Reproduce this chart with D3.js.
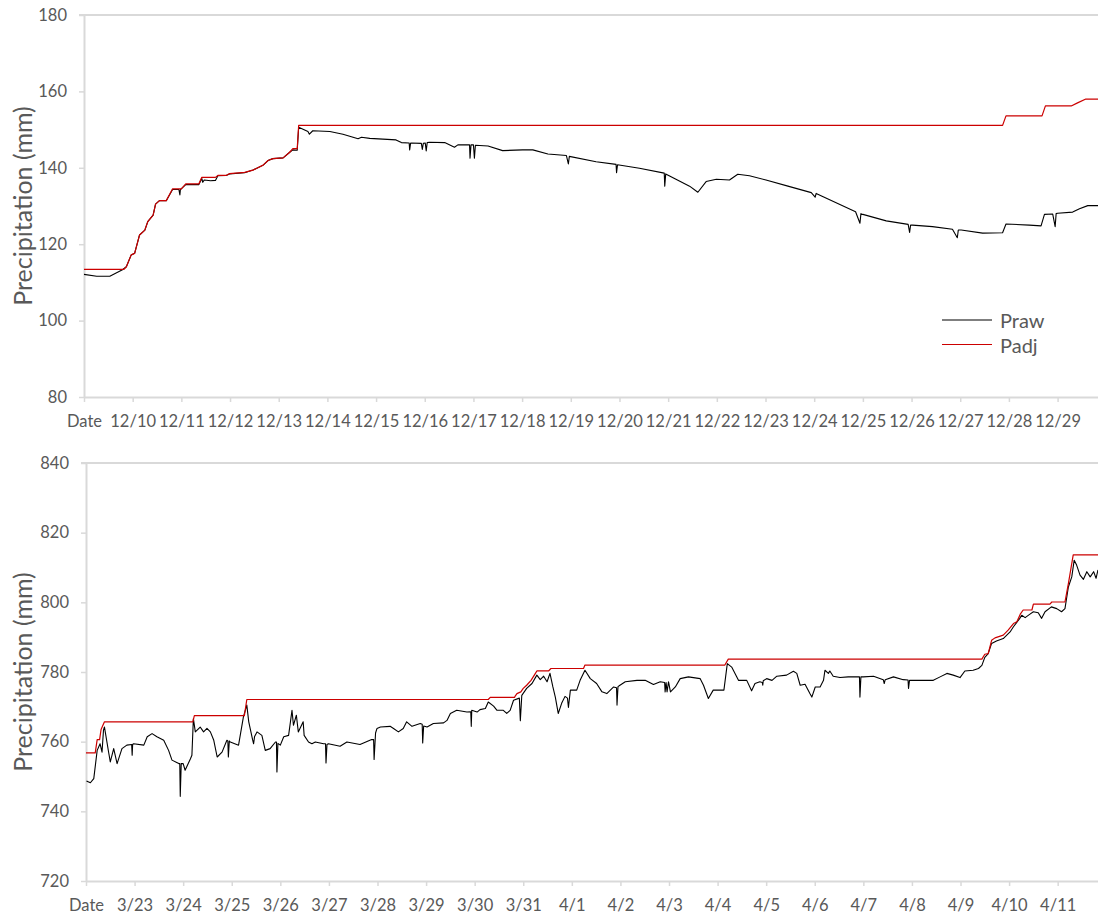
<!DOCTYPE html>
<html>
<head>
<meta charset="utf-8">
<script src="https://cdn.jsdelivr.net/npm/d3@7"></script>
<style>
  body { margin: 0; background: #fff; }
  svg text { font-family: Lato, "Open Sans", sans-serif; fill: #595959; }
</style>
</head>
<body>
<svg id="chart" width="1098" height="917"></svg>
<script>
// day offsets from the first tick ("Date"), values in mm
const decLabels = ['Date', '12/10', '12/11', '12/12', '12/13', '12/14', '12/15', '12/16', '12/17', '12/18',
  '12/19', '12/20', '12/21', '12/22', '12/23', '12/24', '12/25', '12/26', '12/27', '12/28', '12/29'];
const marLabels = ['Date', '3/23', '3/24', '3/25', '3/26', '3/27', '3/28', '3/29', '3/30', '3/31', '4/1',
  '4/2', '4/3', '4/4', '4/5', '4/6', '4/7', '4/8', '4/9', '4/10', '4/11'];
const decTicks = [80, 100, 120, 140, 160, 180];
const marTicks = [720, 740, 760, 780, 800, 820, 840];

const decRaw = [
  [0, 112.1], [0.26, 111.6], [0.53, 111.6], [0.79, 113.3], [0.87, 114.1], [0.97, 117.2], [1.04, 117.6],
  [1.14, 122.4], [1.25, 123.7], [1.31, 125.9], [1.42, 127.6], [1.47, 130.5], [1.55, 131.4], [1.69, 131.4],
  [1.82, 134.3], [1.95, 134.3], [1.97, 132.9], [1.98, 134.3], [2.09, 135.6], [2.36, 135.6], [2.42, 137.2],
  [2.44, 136.2], [2.47, 136.8], [2.6, 136.6], [2.7, 136.7], [2.75, 137.9], [2.92, 138], [2.99, 138.4],
  [3.3, 138.7], [3.47, 139.4], [3.68, 140.7], [3.78, 141.9], [3.88, 142.4], [4.09, 142.6], [4.22, 144],
  [4.29, 144.7], [4.38, 144.6], [4.41, 150.6], [4.6, 149.5], [4.63, 148.8], [4.7, 149.7], [5.05, 149.5],
  [5.32, 148.8], [5.63, 147.6], [5.7, 148], [5.87, 147.7], [6.41, 147.3], [6.52, 146.6], [6.68, 146.5],
  [6.69, 144.7], [6.71, 146.5], [6.93, 146.4], [6.95, 144.8], [6.97, 146.4], [7.01, 146.5], [7.03, 144.4],
  [7.05, 146.6], [7.1, 146.7], [7.41, 146.6], [7.61, 145.4], [7.68, 146], [7.92, 146], [7.93, 142.5],
  [7.95, 146], [8.0, 146], [8.02, 142.5], [8.04, 145.9], [8.3, 145.7], [8.6, 144.5], [9.01, 144.7],
  [9.22, 144.7], [9.53, 143.6], [9.91, 143.2], [9.95, 141], [9.97, 143], [10.52, 141.6], [10.93, 140.9],
  [10.94, 138.7], [10.96, 140.8], [11.41, 139.9], [11.92, 138.6], [11.93, 135.2], [11.95, 138.4],
  [12.44, 135.2], [12.61, 133.6], [12.78, 136.4], [12.99, 137], [13.26, 136.8], [13.43, 138.3],
  [13.67, 137.9], [14.01, 136.8], [14.46, 135.2], [14.94, 133.5], [15.02, 132.3], [15.04, 133.3],
  [15.85, 128.5], [15.94, 125.5], [15.96, 128], [16.0, 127.8], [16.48, 126.1], [16.93, 125.2],
  [16.96, 123.1], [16.98, 125], [17.02, 125], [17.43, 124.6], [17.84, 123.9], [17.94, 121.7],
  [17.96, 123.7], [18.02, 123.7], [18.46, 122.9], [18.87, 123], [18.94, 125.3], [19.42, 125],
  [19.66, 124.8], [19.73, 127.8], [19.9, 127.9], [19.95, 124.6], [19.97, 128], [20.0, 128.1],
  [20.31, 128.4], [20.45, 129.3], [20.62, 130.1], [20.83, 130.1],
];
const decAdj = [
  [0, 113.4], [0.82, 113.4], [0.87, 114.1], [0.97, 117.2], [1.04, 117.6], [1.14, 122.4], [1.25, 123.7],
  [1.31, 125.9], [1.42, 127.6], [1.47, 130.5], [1.55, 131.4], [1.69, 131.4], [1.82, 134.5], [2.0, 134.5],
  [2.09, 135.8], [2.36, 135.8], [2.42, 137.5], [2.7, 137.5], [2.75, 138], [2.92, 138], [2.99, 138.5],
  [3.3, 138.8], [3.47, 139.4], [3.68, 140.7], [3.78, 141.9], [3.88, 142.4], [4.09, 142.6], [4.22, 144],
  [4.29, 145], [4.38, 145], [4.41, 151.1], [18.87, 151.1], [18.94, 153.6], [19.68, 153.6], [19.75, 156.2],
  [20.28, 156.2], [20.41, 157], [20.58, 158], [20.83, 158],
];

const marRaw = [
  [0.01, 748.7], [0.09, 748.2], [0.16, 749.4], [0.23, 757.5], [0.29, 759.4], [0.33, 757.0], [0.36, 763.3],
  [0.38, 764.2], [0.47, 756.6], [0.5, 754.2], [0.57, 758.0], [0.64, 753.7], [0.74, 758.0], [0.84, 759.0],
  [0.94, 759.2], [0.95, 756.1], [0.96, 759.2], [0.98, 759.4], [1.19, 759.0], [1.26, 761.4], [1.36, 762.3],
  [1.46, 761.4], [1.6, 760.4], [1.7, 757.5], [1.77, 754.7], [1.91, 753.7], [1.93, 753.7], [1.94, 744.3],
  [1.96, 753.7], [2.0, 753.7], [2.04, 751.8], [2.15, 755.1], [2.18, 756.1], [2.21, 766.6], [2.25, 762.8],
  [2.35, 764.2], [2.42, 762.8], [2.49, 763.8], [2.56, 762.8], [2.63, 760.4], [2.7, 755.6], [2.8, 757.0],
  [2.9, 760.4], [2.92, 760.2], [2.93, 755.6], [2.95, 760.2], [2.97, 759.9], [3.14, 759.0], [3.24, 767.1],
  [3.31, 770.5], [3.35, 765.7], [3.43, 760.5], [3.45, 759.4], [3.47, 761.5], [3.52, 762.8], [3.62, 761.8],
  [3.69, 757.5], [3.79, 758.0], [3.9, 759.9], [3.92, 759.9], [3.93, 751.3], [3.95, 759.5], [4.0, 759.0],
  [4.07, 761.4], [4.17, 761.8], [4.24, 769.0], [4.27, 764.7], [4.33, 767.6], [4.37, 762.8], [4.47, 765.7],
  [4.49, 761.8], [4.58, 759.9], [4.65, 759.4], [4.72, 759.9], [4.89, 759.4], [4.93, 759.4], [4.94, 753.9],
  [4.96, 759.2], [4.99, 759.4], [5.23, 758.7], [5.37, 759.9], [5.64, 759.2], [5.88, 760.6], [5.92, 760.6],
  [5.93, 754.9], [5.96, 762.5], [5.99, 763.8], [6.06, 764.2], [6.26, 764.4], [6.33, 763.8], [6.43, 762.8],
  [6.53, 763.8], [6.6, 765.7], [6.71, 764.4], [6.88, 765.2], [6.92, 765.0], [6.93, 759.6], [6.95, 764.5],
  [7.02, 764.2], [7.15, 765.2], [7.36, 765.4], [7.43, 766.1], [7.5, 768.1], [7.63, 769.0], [7.84, 768.5],
  [7.92, 768.6], [7.93, 764.4], [7.94, 769.0], [8.05, 768.5], [8.11, 769.2], [8.22, 769.5], [8.28, 771.4],
  [8.39, 770.2], [8.46, 769.0], [8.59, 769.0], [8.66, 768.1], [8.73, 769.0], [8.8, 771.9], [8.92, 772.5],
  [8.94, 766.0], [8.97, 773.3], [9.07, 775.3], [9.18, 776.7], [9.28, 779.1], [9.35, 777.8], [9.42, 778.8],
  [9.49, 777.2], [9.55, 779.6], [9.61, 775.7], [9.66, 772.8], [9.72, 768.1], [9.79, 771.0], [9.86, 773.0],
  [9.91, 772.5], [9.93, 769.8], [9.97, 774.8], [10.1, 774.8], [10.17, 777.6], [10.27, 780.5], [10.38, 778.1],
  [10.51, 776.7], [10.62, 774.3], [10.72, 773.8], [10.86, 775.7], [10.92, 775.5], [10.93, 770.5],
  [10.95, 775.8], [10.99, 776.2], [11.1, 777.2], [11.34, 777.6], [11.51, 777.6], [11.68, 776.4],
  [11.82, 777.2], [11.91, 777.0], [11.92, 774.3], [11.94, 777.0], [11.96, 774.3], [11.99, 777.2],
  [12.03, 774.3], [12.13, 775.7], [12.23, 778.1], [12.4, 778.6], [12.64, 778.1], [12.71, 776.2],
  [12.81, 772.4], [12.91, 774.8], [13.13, 774.8], [13.2, 782.4], [13.29, 781.4], [13.43, 777.6],
  [13.53, 777.6], [13.6, 777.6], [13.7, 774.6], [13.77, 776.7], [13.87, 777.2], [13.92, 777.0],
  [13.93, 776.2], [13.94, 777.5], [14.01, 778.1], [14.12, 777.6], [14.22, 778.8], [14.42, 779.1],
  [14.56, 780.2], [14.63, 779.6], [14.7, 776.2], [14.8, 776.5], [14.9, 773.8], [14.94, 772.8],
  [15.01, 775.7], [15.11, 775.7], [15.18, 777.6], [15.21, 780.5], [15.28, 779.6], [15.31, 780.3],
  [15.38, 778.8], [15.52, 778.4], [15.69, 778.6], [15.79, 778.6], [15.92, 778.6], [15.93, 772.8],
  [15.95, 778.6], [16.0, 778.6], [16.21, 778.8], [16.41, 777.8], [16.43, 776.7], [16.45, 777.8],
  [16.62, 778.6], [16.82, 777.8], [16.92, 777.7], [16.93, 775.3], [16.95, 777.6], [17.03, 777.6],
  [17.44, 777.6], [17.58, 778.6], [17.72, 779.6], [17.85, 779.1], [17.99, 778.4], [18.09, 780.3],
  [18.26, 780.5], [18.37, 781.0], [18.44, 781.9], [18.5, 784.2], [18.57, 785.3], [18.64, 788.2],
  [18.74, 788.9], [18.88, 789.6], [19.02, 791.5], [19.09, 793.0], [19.22, 795.4], [19.26, 796.3],
  [19.33, 795.6], [19.43, 796.6], [19.5, 797.3], [19.6, 797.0], [19.67, 795.4], [19.74, 797.3],
  [19.87, 798.7], [19.98, 798.2], [20.08, 797.3], [20.15, 798.2], [20.22, 804.4], [20.29, 807.3],
  [20.34, 812.1], [20.39, 810.7], [20.46, 807.8], [20.53, 806.6], [20.6, 808.8], [20.67, 807.3],
  [20.74, 808.8], [20.79, 806.9], [20.83, 809.3],
];
const marAdj = [
  [0, 756.8], [0.19, 756.8], [0.23, 760.6], [0.28, 760.6], [0.31, 763.5], [0.38, 765.7], [2.2, 765.7],
  [2.23, 767.5], [3.26, 767.5], [3.31, 772.1], [8.28, 772.1], [8.32, 772.7], [8.82, 772.7], [8.83, 773.0],
  [8.87, 773.8], [8.95, 774.3], [9.0, 775.3], [9.07, 776.2], [9.16, 777.6], [9.25, 779.6], [9.28, 780.3],
  [9.52, 780.3], [9.57, 781.0], [10.24, 781.0], [10.27, 782.0], [13.15, 782.0], [13.22, 783.7],
  [18.44, 783.7], [18.5, 785.1], [18.57, 785.3], [18.64, 789.1], [18.71, 789.8], [18.88, 790.6],
  [18.98, 792.0], [19.09, 793.9], [19.16, 794.4], [19.23, 796.6], [19.29, 797.8], [19.47, 797.8],
  [19.5, 799.5], [19.84, 799.5], [19.88, 800.1], [20.15, 800.1], [20.22, 805.4], [20.25, 807.8],
  [20.32, 813.6], [20.83, 813.6],
];

const seriesNames = ['Praw', 'Padj'];
const colors = {Praw: '#000000', Padj: '#cc0000'};
const W = 1098;
const axisColor = '#d9d9d9';

const svg = d3.select('#chart');

function drawPanel(p) {
  const x = d3.scaleLinear().domain([0, 20.83]).range([p.left, W]);
  const y = d3.scaleLinear().domain(d3.extent(p.ticks)).range([p.bottom, p.top]);
  const g = svg.append('g');

  // top border line at the max value
  g.append('line')
    .attr('x1', p.left - 5).attr('x2', W)
    .attr('y1', y(p.ticks[p.ticks.length - 1])).attr('y2', y(p.ticks[p.ticks.length - 1]))
    .attr('stroke', axisColor).attr('stroke-width', 2);

  const yAxis = g.append('g')
    .attr('transform', `translate(${p.left},0)`)
    .call(d3.axisLeft(y).tickValues(p.ticks).tickSize(5).tickSizeOuter(0).tickPadding(12));
  const xAxis = g.append('g')
    .attr('transform', `translate(0,${p.bottom})`)
    .call(d3.axisBottom(x).tickValues(d3.range(p.labels.length)).tickSize(5).tickSizeOuter(0)
      .tickPadding(13).tickFormat((d, i) => p.labels[i]));

  [yAxis, xAxis].forEach((a) => {
    a.select('.domain').attr('stroke', axisColor).attr('stroke-width', 2);
    a.selectAll('.tick line').attr('stroke', axisColor).attr('stroke-width', 1.5);
    a.selectAll('.tick text').attr('fill', '#595959').style('font-size', '16.5px')
      .style('font-family', 'Lato, sans-serif');
  });

  g.append('text')
    .attr('transform', `translate(22,${(p.top + p.bottom) / 2}) rotate(-90)`)
    .attr('text-anchor', 'middle')
    .attr('dominant-baseline', 'central')
    .style('font-size', '25px')
    .text('Precipitation (mm)');

  const line = d3.line().x(d => x(d[0])).y(d => y(d[1]));
  g.append('path').datum(p.raw)
    .attr('d', line).attr('fill', 'none')
    .attr('stroke', colors.Praw).attr('stroke-width', 1.1).attr('stroke-linejoin', 'round');
  g.append('path').datum(p.adj)
    .attr('d', line).attr('fill', 'none')
    .attr('stroke', colors.Padj).attr('stroke-width', 1.2).attr('stroke-linejoin', 'round');

  if (p.legend) {
    const lg = g.append('g');
    seriesNames.forEach((name, i) => {
      const ly = 320 + i * 24.5;
      lg.append('line')
        .attr('x1', 942).attr('x2', 992).attr('y1', ly).attr('y2', ly)
        .attr('stroke', colors[name]).attr('stroke-width', 1.2);
      lg.append('text')
        .attr('x', 1000).attr('y', ly)
        .attr('dominant-baseline', 'central')
        .style('font-size', '20px')
        .text(name);
    });
  }
}

drawPanel({top: 15, bottom: 397, left: 84, ticks: decTicks, labels: decLabels, raw: decRaw, adj: decAdj, legend: true});
drawPanel({top: 463, bottom: 881, left: 86, ticks: marTicks, labels: marLabels, raw: marRaw, adj: marAdj, legend: false});
</script>
</body>
</html>
